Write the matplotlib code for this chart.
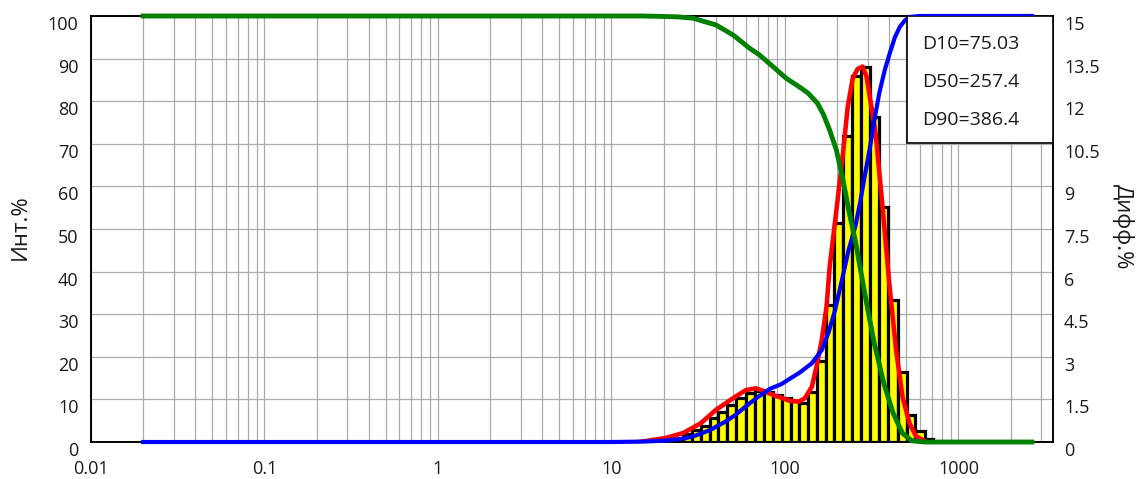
import numpy as np
import matplotlib
matplotlib.use("Agg")
import matplotlib.pyplot as plt
from matplotlib.patches import Rectangle
from matplotlib.ticker import FixedLocator, LogLocator, NullFormatter

plt.rcParams['font.family'] = ['Open Sans', 'DejaVu Sans']

# size classes (bin edges, um) and differential % per bin
bin_edges = [20.5, 23.1, 25.9, 29.3, 33.0, 36.8, 41.1, 46.3, 52.5, 59.4, 67.0, 75.7,
             85.3, 96.2, 108, 120.6, 134.9, 152, 171.8, 192, 216.3, 243.8, 273.7,
             308.5, 347.7, 393.6, 445.8, 502.6, 561.2, 641, 715]
diff_pct = [0.05, 0.12, 0.27, 0.42, 0.57, 0.84, 1.07, 1.31, 1.55, 1.71, 1.80, 1.77,
            1.65, 1.55, 1.43, 1.37, 1.77, 2.84, 4.83, 7.70, 10.76, 12.87, 13.22,
            11.45, 8.28, 5.00, 2.48, 0.95, 0.38, 0.10]

# smoothed differential curve (right axis)
red_x = [14.5, 20.5, 26, 32.7, 40, 50.4, 59.6, 68, 77.6, 88.3, 95.5, 105, 120.6, 130.6,
         143, 152, 163, 173.7, 181, 195, 216, 230, 246, 262, 280, 295, 315, 333, 365,
         399, 437, 476, 522, 570, 655]
red_y = [0.0, 0.14, 0.32, 0.66, 1.13, 1.55, 1.83, 1.89, 1.77, 1.62, 1.56, 1.46, 1.42,
         1.55, 1.95, 2.66, 3.6, 4.77, 6.17, 7.82, 10.17, 11.8, 12.81, 13.13, 13.22,
         12.87, 11.8, 10.88, 8.28, 5.6, 3.24, 1.59, 0.66, 0.2, 0.0]

# cumulative undersize (blue) and oversize (green), left axis
blue_x = [0.02, 10, 15, 20, 26, 30, 37, 45, 52, 60, 70, 82, 95.5, 108, 120.6, 143, 163,
          178, 194.5, 213, 232.5, 254, 272, 287, 310, 329, 350, 376, 400, 430, 460,
          492, 530, 600, 2650]
blue_y = [0, 0, 0.1, 0.3, 0.8, 1.4, 2.8, 4.7, 6.4, 8.5, 10.6, 12.5, 13.6, 15.0, 16.2,
          18.5, 21.6, 25.6, 31.0, 38.0, 45.0, 50.5, 56.5, 62.0, 69.5, 76.0, 82.0, 87.3,
          91.0, 95.0, 97.5, 99.0, 99.8, 100, 100]
green_x = [0.02, 15, 19.6, 24, 29.4, 40, 50.4, 62.7, 71.6, 85.4, 101.5, 120.6, 135.9,
           154, 167, 181, 198, 216, 235, 254, 288, 327, 371, 420, 475, 537, 640, 2650]
green_y = [100, 100, 99.9, 99.8, 99.5, 97.9, 95.5, 92.4, 90.8, 88.1, 85.4, 83.4, 81.9,
           79.5, 76.8, 73.2, 68.5, 61.5, 53.7, 47.4, 35.0, 23.2, 13.8, 6.8, 2.1, 0.3,
           0, 0]

d_labels = ["D10=75.03", "D50=257.4", "D90=386.4"]

fig = plt.figure(figsize=(11.37, 4.79), dpi=100)
ax2 = fig.add_axes([0.080, 0.0772, 0.846, 0.8894])
ax = ax2.twinx()
ax.yaxis.tick_left()
ax.yaxis.set_label_position('left')
ax2.yaxis.tick_right()
ax2.yaxis.set_label_position('right')
ax.set_zorder(ax2.get_zorder() + 1)
ax.patch.set_visible(False)

ax2.set_xscale('log')
ax2.set_xlim(0.01, 3500)
ax2.set_ylim(0, 15)
ax.set_ylim(0, 100)

grid_col = '#ababab'
ax2.xaxis.set_major_locator(FixedLocator([0.01, 0.1, 1, 10, 100, 1000]))
ax2.xaxis.set_minor_locator(LogLocator(base=10, subs=np.arange(2, 10)))
ax2.xaxis.set_minor_formatter(NullFormatter())
ax2.set_xticklabels(['0.01', '0.1', '1', '10', '100', '1000'])
ax2.grid(True, which='both', axis='x', color=grid_col, lw=0.9)
ax2.set_yticks(np.arange(0, 15.01, 1.5))
ax2.set_yticklabels(['0', '1.5', '3', '4.5', '6', '7.5', '9', '10.5', '12', '13.5', '15'])
ax2.grid(True, which='major', axis='y', color=grid_col, lw=0.9)
ax2.set_axisbelow(True)
ax.set_yticks(np.arange(0, 101, 10))

edges = np.array(bin_edges)
ax2.bar(edges[:-1], diff_pct, width=np.diff(edges), align='edge',
        color='#ffff00', edgecolor='black', lw=2.3, zorder=2)
ax2.plot(red_x, red_y, color='#ff0000', lw=3.3, zorder=3)

ax.plot(blue_x, blue_y, color='#0000ff', lw=3, clip_on=False, zorder=3)
ax.plot(green_x, green_y, color='#008000', lw=3.5, clip_on=False, zorder=3)

ax.add_patch(Rectangle((0.848, 0.702), 0.152, 0.298, transform=ax.transAxes,
                       facecolor='white', edgecolor='black', lw=1.2, zorder=5))
for i, t in enumerate(d_labels):
    ax.text(0.864, 0.935 - i * 0.09, t, transform=ax.transAxes, fontsize=14,
            ha='left', va='center', color='#1a1a1a', zorder=6)

for a in (ax, ax2):
    for s in a.spines.values():
        s.set_color('black')
        s.set_linewidth(1.2)
ax2.tick_params(axis='x', which='both', length=0, pad=13, labelsize=13, colors='#1a1a1a')
ax2.tick_params(axis='y', length=0, pad=8, labelsize=13, colors='#1a1a1a')
ax.tick_params(axis='y', length=0, pad=9, labelsize=13, colors='#1a1a1a')
for lab in ax.get_yticklabels() + ax2.get_yticklabels():
    lab.set_verticalalignment('top')

ax.set_ylabel('Инт.%', fontsize=16, color='#1a1a1a')
ax.yaxis.set_label_coords(-0.063, 0.505)
ax2.set_ylabel('Дифф.%', fontsize=16, rotation=270, color='#1a1a1a', va='center')
ax2.yaxis.set_label_coords(1.073, 0.505)

fig.savefig('out.png', dpi=100)
